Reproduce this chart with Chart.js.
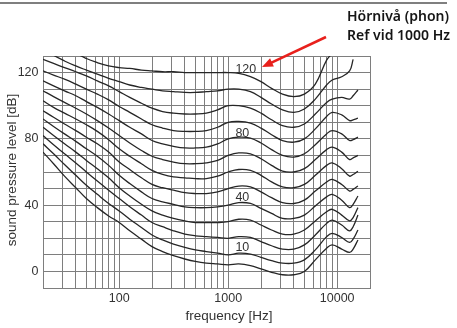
<!DOCTYPE html>
<html>
<head>
<meta charset="utf-8">
<script src="https://cdn.jsdelivr.net/npm/chart.js@4.4.0/dist/chart.umd.min.js"></script>
<style>
  html, body { margin: 0; padding: 0; background: #fff; }
</style>
</head>
<body>
<canvas id="loudChart" width="457" height="328"></canvas>
<script>
const freqs = [20, 25, 31.5, 40, 50, 63, 80, 100, 125, 160, 200, 250, 315, 400, 500, 630, 800,
  1000, 1250, 1600, 2000, 2500, 3150, 4000, 5000, 6300, 8000, 9000, 11000, 13000, 14000, 15500];

// Sound pressure level (dB) of each equal-loudness contour, null = not drawn
const threshold = [72, 65, 57.5, 50.5, 44, 38.5, 33.5, 29.5, 24.5, 19.5, 15, 12, 9.5, 7.5, 6, 5, 4.5,
  4, 4.5, 3.5, 1.5, -0.5, -2, -2, 0, 7, 14, 16, 13.5, 11.5, 13.5, 19];
const phon10 = [77, 71, 64.5, 58, 52, 46.5, 41, 36.5, 31.5, 26.5, 22, 19, 16.5, 14.5, 13, 12, 11,
  10, 11, 10.5, 8.5, 6.5, 5, 5, 7, 13, 21, 23, 20.5, 17.5, 19.5, 25];
const phon20 = [82, 76.5, 71, 65.5, 60, 54.5, 49, 44, 39, 34, 29.5, 27, 24.5, 22.5, 21.5, 21, 20.5,
  20, 21, 20.5, 18, 15.5, 13.5, 13.5, 16, 22, 29, 31, 28, 24.5, 27, 34];
const phon30 = [87, 82, 77, 72, 67, 62, 56.5, 50.5, 45.5, 40.5, 36.5, 34, 32, 30.5, 29.5, 29.5, 29.5,
  30, 31.5, 31, 28, 25, 22.5, 22.5, 25, 30.5, 36, 37.5, 34, 30.5, 32.5, 38.5];
const phon40 = [92, 87.5, 83, 78.5, 74, 69.5, 64, 58, 53, 48, 44, 42, 40.5, 39, 38.5, 38.5, 39,
  40, 41.5, 41, 38, 35, 32, 32, 34, 39.5, 45, 46.5, 43, 38.5, 40.5, 45.5];
const phon50 = [97, 93, 89, 85, 81, 77, 72, 66, 61.5, 56.5, 52.5, 50.5, 49, 47.5, 47, 47, 48,
  50, 51.5, 51, 48, 44.5, 41.5, 41, 43, 48.5, 54, 55.5, 52.5, 48.5, 49.5, 51.5];
const phon60 = [103, 99, 95.5, 92, 88.5, 84.5, 79.5, 74, 69.5, 65, 61, 58.5, 57, 56.5, 56, 56, 57.5,
  60, 61.5, 61, 58, 54, 51, 50.5, 52.5, 58, 64, 65.5, 62, 57.5, 58.5, 60.5];
const phon70 = [109, 105.5, 102, 98.5, 95, 91, 86.5, 82, 77.5, 73, 69.5, 67.5, 66, 65, 65, 65.5, 67,
  70, 71.5, 71, 68, 64, 60.5, 60, 62, 67.5, 73.5, 75, 72, 67.5, 68.5, 70];
const phon80 = [115, 112, 109, 106, 102.5, 99, 95, 91, 87, 83, 79, 77, 75.5, 74.5, 74.5, 75, 77,
  80, 81, 80.5, 77.5, 73.5, 70, 69, 71, 76.5, 83, 85, 83, 79, 79.5, 81];
const phon90 = [121, 118.5, 116, 113, 110, 107, 103.5, 99.5, 96, 92, 88.5, 86.5, 85, 84.5, 84.5, 85, 87,
  90, 90.5, 89.5, 86.5, 82.5, 79, 78, 80, 86, 93.5, 96, 94.5, 91, 91.5, 92.5];
const phon100 = [128, 125.5, 123, 120.5, 118, 115, 112, 108.5, 105, 101.5, 98.5, 96.5, 95.5, 95, 95, 95.5, 97.5,
  100, 100, 98.5, 95.5, 91.5, 88, 87, 89, 95, 102, 104, 105, 104, 106, 109.5];
const phon110 = [135, 130.5, 127, 124, 121.5, 119, 116.5, 114.5, 112.5, 111, 110, 109, 108.5, 108, 108, 108.5, 109,
  110, 110, 108.5, 105, 101, 97.5, 96, 98, 104, 112.5, 115.5, 117.5, 121, 128, null];
const phon120 = [null, null, 138, 132, 128.5, 126, 124, 123, 122.5, 121.5, 121, 120.5, 120.5, 120, 120, 120, 120,
  120, 119.5, 117.5, 114.5, 110.5, 107, 105.5, 107, 113, 127.5, 131.5, null, null, null, null];

const contours = [threshold, phon10, phon20, phon30, phon40, phon50, phon60,
  phon70, phon80, phon90, phon100, phon110, phon120];

// Axis ticks
const gridFreqs = [];
[10, 100, 1000, 10000].forEach((dec) => {
  for (let k = 1; k <= 9; k++) {
    const f = k * dec;
    if (f >= 20 && f <= 20000) gridFreqs.push(f);
  }
});
gridFreqs.push(20000);
const xTickLabels = [100, 1000, 10000];
const yTickLabels = [0, 40, 80, 120];

// Contour labels next to 1 kHz
const curveLabels = ["120", "80", "40", "10"];
const curveLabelLevels = [121.8, 83, 44.5, 14.2];
const curveLabelFreq = 1165;

const textColor = "#333";
const gridColor = "#7e7e7e";
const tickFont = { family: "'Liberation Sans', Arial, sans-serif", size: 12.5 };

const extras = {
  id: "extras",
  afterDraw(chart) {
    const c = chart.ctx;
    const xs = chart.scales.x;
    const ys = chart.scales.y;
    c.save();

    // contour level labels
    c.fillStyle = textColor;
    c.font = "12.5px 'Liberation Sans', Arial, sans-serif";
    c.textAlign = "left";
    c.textBaseline = "middle";
    curveLabels.forEach((t, i) => {
      c.fillText(t, xs.getPixelForValue(curveLabelFreq), ys.getPixelForValue(curveLabelLevels[i]));
    });

    // axis titles
    c.font = "13.5px 'Liberation Sans', Arial, sans-serif";
    c.textAlign = "center";
    c.fillText("frequency [Hz]", 229, 316);
    c.translate(12.5, 170);
    c.rotate(-Math.PI / 2);
    c.fillText("sound pressure level [dB]", 0, 0);
    c.setTransform(1, 0, 0, 1, 0, 0);

    // rule at the top
    c.strokeStyle = "#555";
    c.lineWidth = 1.5;
    c.beginPath();
    c.moveTo(0, 3);
    c.lineTo(447, 3);
    c.stroke();

    // note
    c.fillStyle = "#151515";
    c.font = "600 14px 'Noto Sans', sans-serif";
    c.textAlign = "left";
    c.textBaseline = "alphabetic";
    c.fillText("Hörnivå (phon)", 347, 21);
    c.fillText("Ref vid 1000 Hz", 347, 40);

    // red arrow
    const x0 = 326, y0 = 37, x1 = 262, y1 = 67;
    const ang = Math.atan2(y1 - y0, x1 - x0);
    c.strokeStyle = "#e8201c";
    c.fillStyle = "#e8201c";
    c.lineWidth = 2.5;
    c.beginPath();
    c.moveTo(x0, y0);
    c.lineTo(x1 - 7 * Math.cos(ang), y1 - 7 * Math.sin(ang));
    c.stroke();
    c.beginPath();
    c.moveTo(x1, y1);
    c.lineTo(x1 - 11 * Math.cos(ang) + 4.5 * Math.sin(ang), y1 - 11 * Math.sin(ang) - 4.5 * Math.cos(ang));
    c.lineTo(x1 - 11 * Math.cos(ang) - 4.5 * Math.sin(ang), y1 - 11 * Math.sin(ang) + 4.5 * Math.cos(ang));
    c.closePath();
    c.fill();

    c.restore();
  },
};

const datasets = contours.map((vals) => ({
  data: freqs.map((f, i) => ({ x: f, y: vals[i] })).filter((p) => p.y !== null),
  borderColor: "#262626",
  borderWidth: 1.3,
  pointRadius: 0,
  fill: false,
  tension: 0.4,
}));

const ctx = document.getElementById("loudChart").getContext("2d");
new Chart(ctx, {
  type: "line",
  data: { datasets },
  options: {
    responsive: false,
    animation: false,
    layout: { padding: { top: 56, right: 87, left: 0, bottom: 0 } },
    plugins: { legend: { display: false }, tooltip: { enabled: false } },
    scales: {
      x: {
        type: "logarithmic",
        min: 20,
        max: 20000,
        afterBuildTicks: (scale) => {
          scale.ticks = gridFreqs.map((v) => ({ value: v }));
        },
        afterFit: (scale) => {
          scale.height = 40;
        },
        ticks: {
          autoSkip: false,
          maxRotation: 0,
          padding: 3,
          color: textColor,
          font: tickFont,
          callback: (v) => (xTickLabels.includes(v) ? String(v) : ""),
        },
        grid: { color: gridColor, lineWidth: 1, drawTicks: false },
        border: { color: gridColor },
      },
      y: {
        min: -10,
        max: 130,
        afterFit: (scale) => {
          scale.width = 43;
        },
        ticks: {
          stepSize: 10,
          autoSkip: false,
          padding: 4.5,
          color: textColor,
          font: tickFont,
          callback: (v) => (yTickLabels.includes(v) ? String(v) : ""),
        },
        grid: { color: gridColor, lineWidth: 1, drawTicks: false },
        border: { color: gridColor },
      },
    },
  },
  plugins: [extras],
});
</script>
</body>
</html>
